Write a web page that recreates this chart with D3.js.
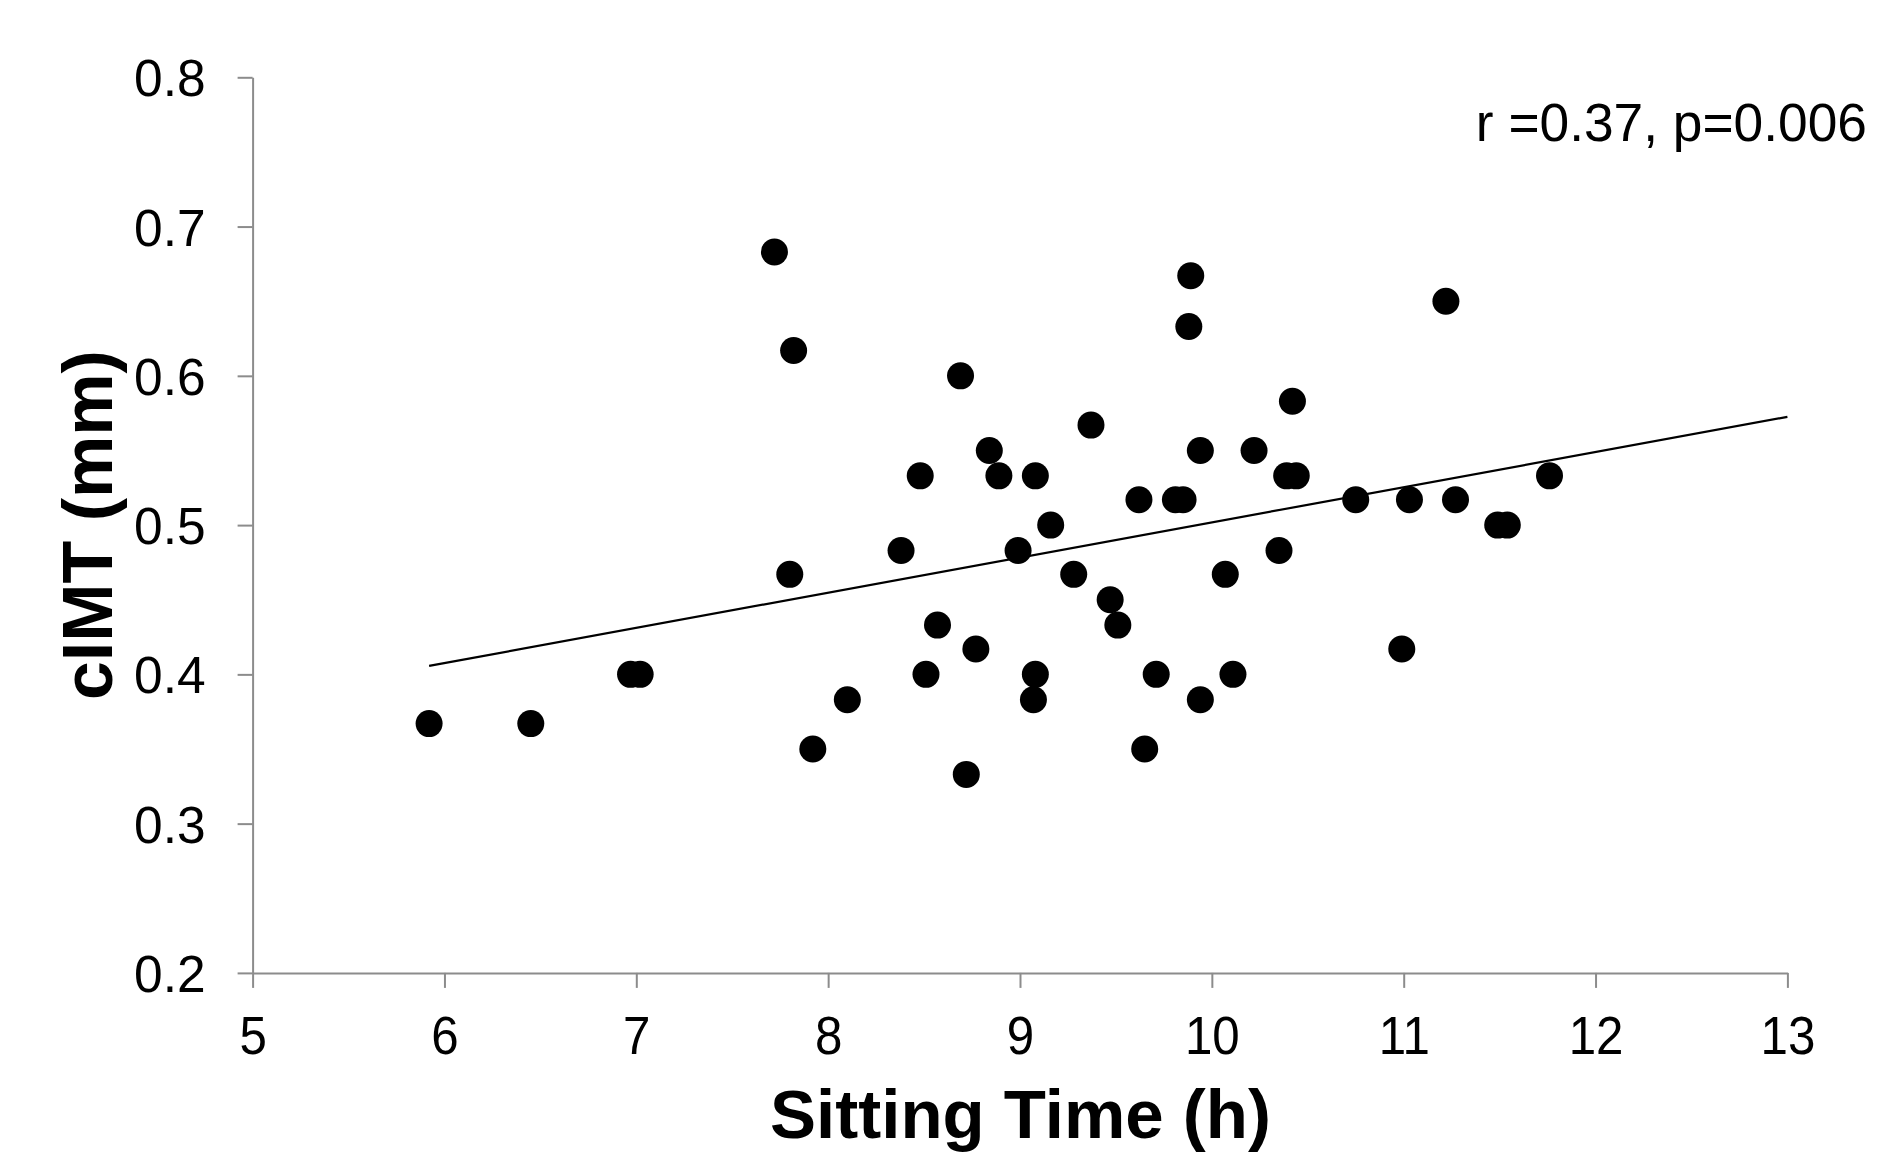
<!DOCTYPE html>
<html><head><meta charset="utf-8">
<script src="https://cdn.jsdelivr.net/npm/d3@7"></script>
<style>body{margin:0;background:#fff}svg{display:block}</style>
</head><body>
<script>
const sittingTime = [5.92,6.45,6.97,7.02,7.72,7.82,7.80,7.92,8.10,8.38,8.48,8.51,8.57,8.69,8.72,8.77,8.84,8.89,8.99,9.08,9.08,9.07,9.16,9.28,9.37,9.47,9.51,9.62,9.65,9.71,9.81,9.85,9.88,9.89,9.94,9.94,10.07,10.11,10.22,10.35,10.39,10.44,10.42,10.75,10.99,11.03,11.22,11.27,11.49,11.54,11.76];
const cimt = [0.367,0.367,0.400,0.400,0.683,0.617,0.467,0.350,0.383,0.483,0.533,0.400,0.433,0.600,0.333,0.417,0.550,0.533,0.483,0.533,0.400,0.383,0.500,0.467,0.567,0.450,0.433,0.517,0.350,0.400,0.517,0.517,0.633,0.667,0.550,0.383,0.467,0.400,0.550,0.483,0.533,0.533,0.583,0.517,0.417,0.517,0.650,0.517,0.500,0.500,0.533];
const trendX = [5.92, 13];
const trendY = [0.4057, 0.5725];
const xTicks = [5,6,7,8,9,10,11,12,13];
const yTicks = [0.2,0.3,0.4,0.5,0.6,0.7,0.8];
const annotation = "r =0.37, p=0.006";

const W = 1895, H = 1152;
const svg = d3.select("body").append("svg").attr("width", W).attr("height", H);
const x = d3.scaleLinear().domain([5,13]).range([252.6,1787.4]);
const y = d3.scaleLinear().domain([0.2,0.8]).range([972.9,77.3]);
const font = "'Liberation Sans', Arial, sans-serif";
const axisColor = "#8c8c8c";

const xa = svg.append("g").attr("transform", `translate(0,${y(0.2)})`)
  .call(d3.axisBottom(x).tickValues(xTicks).tickFormat(d3.format("d")).tickSize(15).tickPadding(28).tickSizeOuter(0));
const ya = svg.append("g").attr("transform", `translate(${x(5)},0)`)
  .call(d3.axisLeft(y).tickValues(yTicks).tickFormat(d3.format(".1f")).tickSize(15).tickPadding(32).tickSizeOuter(0));
[xa, ya].forEach(g => {
  g.select(".domain").attr("stroke", axisColor).attr("stroke-width", 2);
  g.selectAll(".tick line").attr("stroke", axisColor).attr("stroke-width", 2);
  g.selectAll(".tick text").attr("fill", "#000").style("font-family", font);
});
xa.selectAll(".tick text").style("font-size", "53px").attr("transform", "scale(0.93,1)");
ya.selectAll(".tick text").style("font-size", "51.5px").attr("dy", "0.36em");

svg.append("line")
  .attr("x1", x(trendX[0])).attr("y1", y(trendY[0]))
  .attr("x2", x(trendX[1])).attr("y2", y(trendY[1]))
  .attr("stroke", "#000").attr("stroke-width", 2.2);

svg.append("g").selectAll("circle").data(sittingTime.map((d,i)=>[d,cimt[i]])).join("circle")
  .attr("cx", d => x(d[0])).attr("cy", d => y(d[1])).attr("r", 13.5).attr("fill", "#000");

svg.append("text").attr("x", 1867).attr("y", 141).attr("text-anchor", "end")
  .style("font-family", font).style("font-size", "53.3px").text(annotation);

svg.append("text").attr("x", 1020.5).attr("y", 1138).attr("text-anchor", "middle")
  .style("font-family", font).style("font-size", "69px").style("font-weight", "bold").text("Sitting Time (h)");

svg.append("text").attr("transform", `translate(112,${y(0.5)}) rotate(-90)`).attr("text-anchor", "middle")
  .style("font-family", font).style("font-size", "70px").style("font-weight", "bold").text("cIMT (mm)");
</script>
</body></html>
